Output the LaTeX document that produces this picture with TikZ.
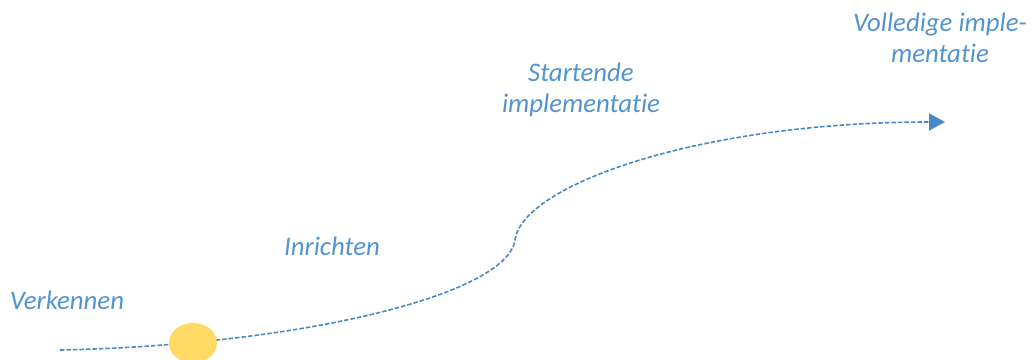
\documentclass[tikz,border=0pt]{standalone}
\usepackage{fontspec}
\setmainfont{Carlito}[Ligatures={NoCommon}]
\usepackage{xcolor}
\usetikzlibrary{arrows.meta,shapes.geometric}

\definecolor{phasetext}{RGB}{84,148,206}
\definecolor{pathblue}{RGB}{74,136,198}
\definecolor{sunyellow}{RGB}{255,217,102}

\begin{document}
\begin{tikzpicture}[x=1pt,y=-1pt]
                \useasboundingbox (0,0) rectangle (1036,359);

                \begin{scope}[every node/.style = {anchor=base, align=center, inner sep=0pt,
                                text=phasetext, font=\fontsize{26.8}{30.5}\selectfont\itshape}]
                    \node (verkennen)  at (67, 309)   {Verkennen};
                    \node (inrichten)  at (332, 255)  {Inrichten};
                    \node (startend)   at (581, 112)  {Startende\\implementatie};
                    \node (volledig)   at (940, 62)   {Volledige imple-\\mentatie};
                \end{scope}

                \coordinate (start) at (60, 350);
                \coordinate (bend)  at (515, 240);
                \coordinate (end)   at (945, 122);

                \begin{scope}[>={Triangle[length=16pt, width=17pt]}]
                     \draw [->, pathblue, line width=1.6pt, dash pattern=on 4.5pt off 2pt]
                        (start) .. controls (300, 345) and (507, 295) .. (bend)
                                .. controls (522, 185) and (700, 122) .. (end);
                \end{scope}

                \node [ellipse, fill=sunyellow, minimum width=48pt, minimum height=40pt,
                       inner sep=0pt] (dot) at (193, 343) {};
\end{tikzpicture}
\end{document}
